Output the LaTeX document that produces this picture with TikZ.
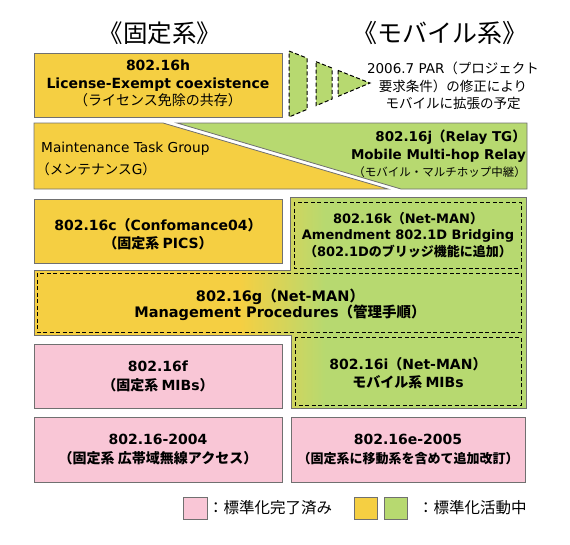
\documentclass[tikz,border=0pt]{standalone}
\usepackage{fontspec}
\setmainfont{DejaVu Sans}
\newfontfamily\jpfam{Noto Sans CJK JP}
\newfontfamily\lafam{DejaVu Sans}
% switch to the Japanese face for CJK characters
\XeTeXinterchartokenstate=1
\chardef\cjkclass=7
\newcount\cjkcode
\def\markcjk#1#2{\cjkcode=#1\relax
  \loop\XeTeXcharclass\cjkcode=\cjkclass
  \ifnum\cjkcode<#2 \advance\cjkcode by 1 \repeat}
\markcjk{"3000}{"30FF}
\markcjk{"4E00}{"9FFF}
\markcjk{"FF00}{"FFEF}
\XeTeXinterchartoks 0 \cjkclass = {\jpfam}
\XeTeXinterchartoks 4095 \cjkclass = {\jpfam}
\XeTeXinterchartoks \cjkclass 0 = {\lafam}
\XeTeXinterchartoks 4095 0 = {\lafam}
\usetikzlibrary{positioning}
\definecolor{yel}{RGB}{245,207,66}
\definecolor{grn}{RGB}{183,217,112}
\definecolor{pnk}{RGB}{249,198,214}
\definecolor{edgegray}{RGB}{112,112,112}
\tikzset{
  stdbox/.style={draw=edgegray,line width=0.8pt,fill=#1},
  stdbox/.default=yel,
  dashbox/.style={draw=black,line width=1pt,dash pattern=on 4pt off 2.5pt},
  parseg/.style={fill=grn,draw=black,line width=1pt,dash pattern=on 4pt off 2.5pt},
  lbl/.style={align=center,inner sep=0pt,font=\bfseries\fontsize{#1}{18}\selectfont},
  lbl/.default=14,
  plain/.style={inner sep=0pt,font=\fontsize{#1}{17.5}\selectfont},
  plain/.default=13.5,
}
\begin{document}
\begin{tikzpicture}[x=1pt,y=-1pt]
  \useasboundingbox (0,0) rectangle (570,544);
  % titles
  \node[plain=24.5] (ttlfixed) at (160,33) {《固定系》};
  \node[plain=25] (ttlmobile) at (440,33) {《モバイル系》};
  % 802.16h and the PAR arrow
  \draw[stdbox] (34,53) rectangle (282,117);
  \node[lbl,font=\bfseries\fontsize{14}{17.5}\selectfont] (n16h) at (158,83.5)
    {802.16h\\License-Exempt coexistence\\{\mdseries （ライセンス免除の共存）}};
  \draw[parseg] (289,51) -- (307,58.1) -- (307,109.4) -- (289,117) -- cycle;
  \draw[parseg] (316,61.7) -- (332,68) -- (332,99) -- (316,105.7) -- cycle;
  \draw[parseg] (338,70.4) -- (370,83) -- (338,96.4) -- cycle;
  \node[plain,align=center] (npar) at (453,86)
    {2006.7 PAR（プロジェクト\\要求条件）の修正により\\モバイルに拡張の予定};
  % maintenance / relay
  \draw[stdbox] (34,123) -- (163,123) -- (388,189) -- (34,189) -- cycle;
  \draw[stdbox=grn] (177,123) -- (527,123) -- (527,189) -- (401,189) -- cycle;
  \node[plain=13.7,anchor=base west] (nmtg) at (41,152) {Maintenance Task Group};
  \node[plain=13.7,anchor=base west] (nmtgj) at (36,174) {（メンテナンスG）};
  \node[lbl,font=\bfseries\fontsize{13.5}{17.5}\selectfont,align=right,anchor=north east] (n16j) at (526,130)
    {802.16j（Relay TG）\\Mobile Multi-hop Relay\\{\mdseries\fontsize{11.5}{17.5}\selectfont （モバイル・マルチホップ中継）}};
  % 802.16c
  \draw[stdbox] (34,199) rectangle (282,263);
  \node[lbl] (n16c) at (158,234) {802.16c（Confomance04）\\（固定系 PICS）};
  % Net-MAN block
  \begin{scope}
    \clip (290,197) -- (526,197) -- (526,408) -- (291,408) -- (291,335)
      -- (34,335) -- (34,270) -- (290,270) -- cycle;
    \fill[grn] (0,190) rectangle (570,420);
    \fill[yel] (0,190) rectangle (240,420);
    \shade[left color=yel,right color=grn] (240,190) rectangle (325,420);
  \end{scope}
  \draw[draw=edgegray,line width=0.8pt] (290,197) -- (526,197) -- (526,408) -- (291,408)
    -- (291,335) -- (34,335) -- (34,270) -- (290,270) -- cycle;
  \draw[dashbox] (294,202) rectangle (521,268);
  \draw[dashbox] (37,273) rectangle (521,332);
  \draw[dashbox] (295,337) rectangle (521,405);
  \node[lbl,font=\bfseries\fontsize{13}{16.5}\selectfont] (n16k) at (408,235)
    {802.16k（Net-MAN）\\Amendment 802.1D Bridging\\（802.1Dのブリッジ機能に追加）};
  \node[lbl,font=\bfseries\fontsize{14.5}{16.5}\selectfont] (n16g) at (280,305)
    {802.16g（Net-MAN）\\Management Procedures（管理手順）};
  \node[lbl] (n16i) at (408,373) {802.16i（Net-MAN）\\モバイル系 MIBs};
  % completed standards
  \draw[stdbox=pnk] (34,344) rectangle (282,408);
  \node[lbl,font=\bfseries\fontsize{14}{19}\selectfont] (n16f) at (158,376.5) {802.16f\\（固定系 MIBs）};
  \draw[stdbox=pnk] (34,417) rectangle (282,482);
  \node[lbl,font=\bfseries\fontsize{14}{19}\selectfont] (n2004) at (158,449.5)
    {802.16-2004\\（固定系 広帯域無線アクセス）};
  \draw[stdbox=pnk] (291,417) rectangle (525,482);
  \node[lbl,font=\bfseries\fontsize{14}{19}\selectfont] (n2005) at (408,449.5)
    {802.16e-2005\\{\fontsize{13}{19}\selectfont （固定系に移動系を含めて追加改訂）}};
  % legend
  \draw[stdbox=pnk] (183,497) rectangle (207,519);
  \node[plain=15.5,anchor=west] (lgddone) at (208,508) {：標準化完了済み};
  \draw[stdbox] (354,497) rectangle (377,519);
  \draw[stdbox=grn] (384,497) rectangle (407,519);
  \node[plain=15.5,anchor=west] (lgdwork) at (418,508) {：標準化活動中};
\end{tikzpicture}
\end{document}
